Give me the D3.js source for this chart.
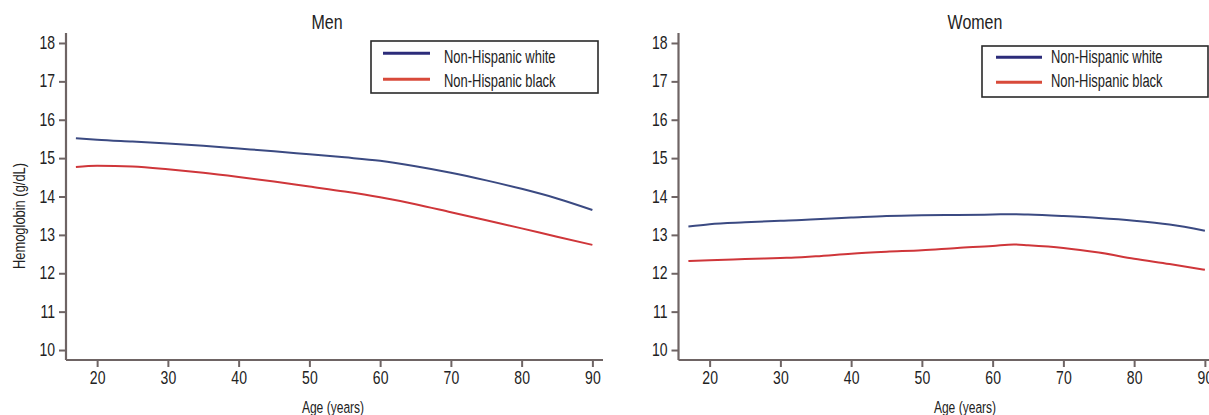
<!DOCTYPE html>
<html><head><meta charset="utf-8">
<script src="https://cdn.jsdelivr.net/npm/d3@7"></script>
<style>
html,body{margin:0;padding:0;background:#fff;}
svg{display:block;}
text{font-family:"Liberation Sans","Arial",sans-serif;fill:#222;}
</style></head>
<body>
<svg id="chart" width="1209" height="415"></svg>
<script>
// ---- data ----
const panels = ["Men", "Women"];
const seriesNames = ["Non-Hispanic white", "Non-Hispanic black"];
const menAges   = [17, 20, 25, 30, 35, 40, 45, 50, 55, 60, 65, 70, 75, 80, 85, 90];
const menWhite  = [15.52, 15.48, 15.43, 15.38, 15.32, 15.25, 15.18, 15.10, 15.02, 14.93, 14.79, 14.62, 14.42, 14.20, 13.95, 13.65];
const menBlack  = [14.77, 14.80, 14.78, 14.71, 14.62, 14.51, 14.39, 14.26, 14.13, 13.98, 13.80, 13.59, 13.38, 13.17, 12.95, 12.74];
const womenAges  = [17, 20, 25, 30, 33, 35, 40, 45, 50, 55, 60, 63, 65, 70, 75, 80, 85, 90];
const womenWhite = [13.22, 13.28, 13.33, 13.37, 13.39, 13.41, 13.45, 13.49, 13.51, 13.52, 13.53, 13.54, 13.53, 13.49, 13.44, 13.37, 13.27, 13.11];
const womenBlack = [12.32, 12.34, 12.37, 12.40, 12.42, 12.44, 12.51, 12.56, 12.60, 12.66, 12.71, 12.75, 12.73, 12.66, 12.54, 12.38, 12.24, 12.09];
const xTicks = [20, 30, 40, 50, 60, 70, 80, 90];
const yTicks = [10, 11, 12, 13, 14, 15, 16, 17, 18];
const xTitle = "Age (years)";
const yTitle = "Hemoglobin (g/dL)";

const lineColors = ["#3b4a82", "#cf363a"];
const legendColors = ["#2c2c7a", "#d84a3a"];
const axisColor = "#6e6464";

const svg = d3.select("#chart");

// condensed text helper (real text, horizontally compressed)
function ctext(g, x, y, str, size, sx, anchor, rot) {
  return g.append("text")
    .attr("transform", `translate(${x},${y})` + (rot ? ` rotate(${rot})` : "") + ` scale(${sx},1)`)
    .attr("text-anchor", anchor || "start")
    .style("font-size", size + "px").text(str);
}

const panelCfg = [
  {name: panels[0], ages: menAges, vals: [menWhite, menBlack], x0: 66, titleX: 327, xTitleX: 333,
   legend: {x: 371, y: 41, w: 227, h: 52, lx1: 383, lx2: 430, tx: 444, ly: [53.3, 79.3], ty: [62.5, 87.3]}},
  {name: panels[1], ages: womenAges, vals: [womenWhite, womenBlack], x0: 678.5, titleX: 975, xTitleX: 965,
   legend: {x: 982, y: 46, w: 226, h: 51, lx1: 996, lx2: 1042, tx: 1051, ly: [57.3, 82.3], ty: [62.7, 87.3]}}
];

const y = d3.scaleLinear().domain([9.74, 18.26]).range([360, 33]);
const tickScale = 0.8;

panelCfg.forEach(p => {
  const x = d3.scaleLinear().domain([15.6, 91.5]).range([p.x0, p.x0 + 537]);
  const g = svg.append("g");

  // lines
  const line = d3.line().x((d, i) => x(p.ages[i])).y(d => y(d)).curve(d3.curveMonotoneX);
  p.vals.forEach((vals, k) => {
    g.append("path").datum(vals)
      .attr("fill", "none").attr("stroke", lineColors[k]).attr("stroke-width", 2)
      .attr("d", line);
  });

  // y axis
  const ya = g.append("g").attr("transform", `translate(${p.x0},0)`)
    .call(d3.axisLeft(y).tickValues(yTicks).tickSize(7).tickPadding(4).tickFormat(d3.format("d")));
  // x axis
  const xa = g.append("g").attr("transform", `translate(0,360)`)
    .call(d3.axisBottom(x).tickValues(xTicks).tickSize(7).tickPadding(5).tickFormat(d3.format("d")));
  [ya, xa].forEach(a => {
    a.select(".domain").attr("stroke", axisColor).attr("stroke-width", 2.2);
    a.selectAll(".tick line").attr("stroke", axisColor).attr("stroke-width", 2);
    a.selectAll(".tick text").style("font-size", "17.5px").attr("fill", "#222")
      .attr("font-family", "Liberation Sans, Arial, sans-serif");
  });
  ya.selectAll(".tick text").attr("x", -11 / tickScale).attr("transform", `scale(${tickScale},1)`);
  xa.selectAll(".tick text").attr("y", 12).attr("dy", "0.71em").attr("transform", `scale(${tickScale},1)`);
  ya.select(".domain").attr("d", `M0,${y.range()[1]}V${y.range()[0]}`);
  xa.select(".domain").attr("d", `M${x.range()[0]},0H${x.range()[1]}`);

  // title
  ctext(g, p.titleX, 29, p.name, 19.5, 0.82, "middle");

  // x title
  ctext(g, p.xTitleX, 413, xTitle, 16.5, 0.73, "middle");

  // legend
  const L = p.legend;
  g.append("rect").attr("x", L.x).attr("y", L.y).attr("width", L.w).attr("height", L.h)
    .attr("fill", "#fff").attr("stroke", "#2a2a2a").attr("stroke-width", 1.6);
  seriesNames.forEach((s, k) => {
    g.append("line").attr("x1", L.lx1).attr("x2", L.lx2).attr("y1", L.ly[k]).attr("y2", L.ly[k])
      .attr("stroke", legendColors[k]).attr("stroke-width", 3);
    ctext(g, L.tx, L.ty[k], s, 18, 0.72, "start");
  });
});

// y title (left panel only)
ctext(svg, 25, 216, yTitle, 17, 0.76, "middle", -90);
</script>
</body></html>
